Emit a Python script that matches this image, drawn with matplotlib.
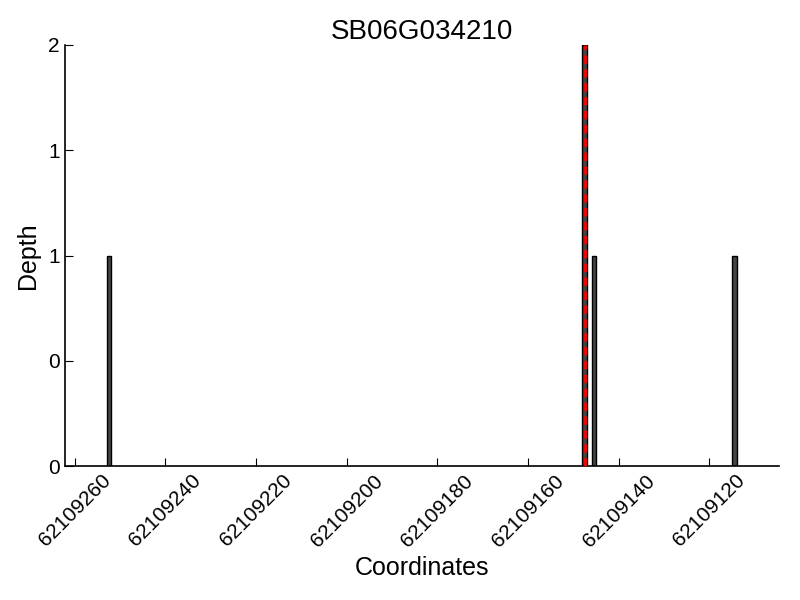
import matplotlib
matplotlib.use("Agg")
import matplotlib.pyplot as plt
from matplotlib.ticker import FormatStrFormatter

plt.rcParams["font.family"] = ["Liberation Sans", "DejaVu Sans"]

title = "SB06G034210"
positions = [62109252, 62109147, 62109145, 62109114]
depths = [1, 2, 1, 1]
marker_pos = 62109147.5
x_ticks = [62109260, 62109240, 62109220, 62109200, 62109180, 62109160, 62109140, 62109120]
y_ticks = [0, 0.5, 1, 1.5, 2]

fig = plt.figure(figsize=(8, 6), dpi=100)
ax = fig.add_axes([0.081, 0.223, 0.893, 0.702])

ax.bar(positions, depths, width=1, align="edge", color="#444444",
       edgecolor="black", linewidth=1, zorder=2)
ax.axvline(marker_pos, color="red", linestyle=(0, (3, 2)), linewidth=2, zorder=3)

ax.set_xlim(62109262.2, 62109104.6)
ax.set_ylim(0, 2)
ax.set_xticks(x_ticks)
ax.set_xticklabels([str(t) for t in x_ticks], rotation=45, fontsize=15)
ax.set_yticks(y_ticks)
ax.yaxis.set_major_formatter(FormatStrFormatter("%d"))
ax.tick_params(axis="y", labelsize=15)
ax.tick_params(direction="in", length=6)

ax.spines["top"].set_visible(False)
ax.spines["right"].set_visible(False)
ax.spines["left"].set_linewidth(1.2)
ax.spines["bottom"].set_linewidth(1.2)

ax.set_title(title, fontsize=20, pad=4)
ax.set_xlabel("Coordinates", fontsize=18, labelpad=4)
ax.set_ylabel("Depth", fontsize=18, labelpad=6)

plt.savefig("out.png", dpi=100)
